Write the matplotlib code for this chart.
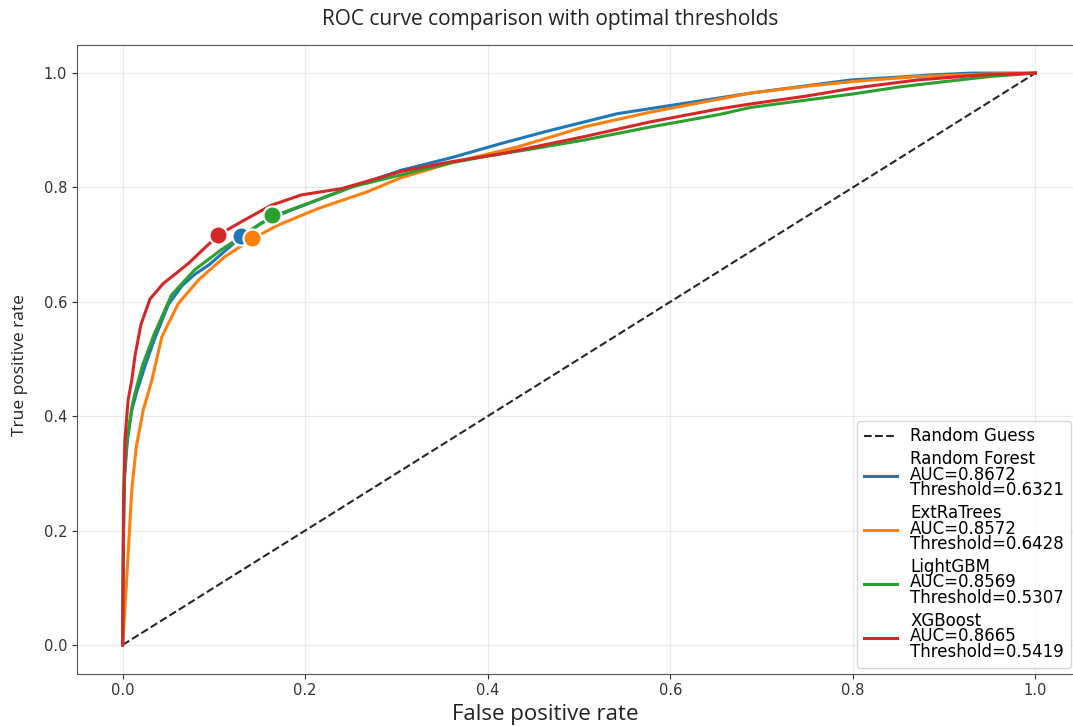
import matplotlib
matplotlib.use("Agg")
import matplotlib.pyplot as plt

plt.rcParams["font.family"] = ["DejaVu Sans"]

# ROC curves (false positive rate, true positive rate)
rf_fpr = [0, 0.001, 0.002, 0.005, 0.01, 0.015, 0.025, 0.035, 0.05, 0.065, 0.079, 0.095,
          0.105, 0.118, 0.130, 0.152, 0.181, 0.21, 0.25, 0.305, 0.36, 0.415, 0.469,
          0.542, 0.615, 0.688, 0.75, 0.798, 0.85, 0.888, 0.93, 1.0]
rf_tpr = [0, 0.2, 0.29, 0.355, 0.41, 0.44, 0.49, 0.535, 0.595, 0.628, 0.648, 0.665,
          0.679, 0.697, 0.714, 0.738, 0.758, 0.776, 0.80, 0.830, 0.852, 0.877, 0.900,
          0.929, 0.947, 0.965, 0.978, 0.988, 0.993, 0.997, 1.0, 1.0]

et_fpr = [0, 0.002, 0.0044, 0.01, 0.015, 0.0226, 0.032, 0.043, 0.061, 0.083, 0.112,
          0.143, 0.170, 0.214, 0.269, 0.305, 0.36, 0.433, 0.506, 0.579, 0.688, 0.75,
          0.798, 0.871, 0.94, 1.0]
et_tpr = [0, 0.05, 0.114, 0.271, 0.347, 0.411, 0.463, 0.539, 0.597, 0.638, 0.679,
          0.711, 0.734, 0.763, 0.793, 0.817, 0.843, 0.871, 0.906, 0.932, 0.965, 0.977,
          0.985, 0.994, 0.998, 1.0]

lgb_fpr = [0, 0.001, 0.002, 0.005, 0.01, 0.0135, 0.022, 0.035, 0.0536, 0.079, 0.108,
           0.141, 0.165, 0.203, 0.251, 0.305, 0.36, 0.40, 0.451, 0.506, 0.579, 0.652,
           0.688, 0.75, 0.798, 0.852, 0.9, 0.95, 1.0]
lgb_tpr = [0, 0.2, 0.30, 0.36, 0.415, 0.44, 0.49, 0.545, 0.612, 0.656, 0.691,
           0.726, 0.750, 0.772, 0.801, 0.822, 0.843, 0.855, 0.868, 0.883, 0.906, 0.927,
           0.940, 0.953, 0.963, 0.976, 0.985, 0.994, 1.0]

xgb_fpr = [0, 0.001, 0.0025, 0.006, 0.01, 0.0135, 0.02, 0.03, 0.0445, 0.072, 0.105,
           0.130, 0.163, 0.196, 0.240, 0.305, 0.36, 0.415, 0.506, 0.579, 0.652, 0.688,
           0.75, 0.798, 0.871, 0.943, 1.0]
xgb_tpr = [0, 0.25, 0.358, 0.428, 0.463, 0.505, 0.56, 0.605, 0.632, 0.667, 0.717,
           0.740, 0.769, 0.787, 0.798, 0.828, 0.845, 0.859, 0.889, 0.915, 0.937, 0.946,
           0.960, 0.973, 0.988, 0.997, 1.0]

# optimal threshold points
opt_fpr = [0.130, 0.142, 0.164, 0.104]
opt_tpr = [0.715, 0.711, 0.751, 0.717]

model_names = ["Random Forest", "ExtRaTrees", "LightGBM", "XGBoost"]
auc_values = [0.8672, 0.8572, 0.8569, 0.8665]
thresholds = [0.6321, 0.6428, 0.5307, 0.5419]
colors = ["#1f77b4", "#ff7f0e", "#2ca02c", "#d62728"]

curves = [(rf_fpr, rf_tpr), (et_fpr, et_tpr), (lgb_fpr, lgb_tpr), (xgb_fpr, xgb_tpr)]

fig = plt.figure(figsize=(10.73, 7.26), dpi=100)
ax = fig.add_axes([77 / 1073, 1 - 673.5 / 726, 1004 / 1073, 629 / 726])

ax.plot([0, 1], [0, 1], "k--", lw=1.5, alpha=0.85, label="Random Guess")

for (fpr, tpr), name, auc, thr, c in zip(curves, model_names, auc_values, thresholds, colors):
    ax.plot(fpr, tpr, color=c, lw=2.2,
            label=f"{name}\nAUC={auc:.4f}\nThreshold={thr:.4f}")

for x, y, c in zip(opt_fpr, opt_tpr, colors):
    ax.plot(x, y, "o", color=c, markersize=13, markeredgecolor="white",
            markeredgewidth=1.5, zorder=5)

ax.set_xlim(-0.05, 1.05)
ax.set_ylim(-0.05, 1.05)
ax.set_xticks([0, 0.2, 0.4, 0.6, 0.8, 1.0])
ax.set_yticks([0, 0.2, 0.4, 0.6, 0.8, 1.0])
ax.tick_params(labelsize=10.5, colors="#333333")
ax.grid(True, alpha=0.25)
for s in ax.spines.values():
    s.set_color("#555555")

ax.set_xlabel("False positive rate", fontfamily="Open Sans", fontsize=16, color="#222222")
ax.xaxis.set_label_coords((545 - 77) / 1004, (673.5 - 704) / 629)
ax.set_ylabel("True positive rate", fontfamily="Open Sans", fontsize=12.5, color="#222222")
ax.yaxis.set_label_coords((28 - 77) / 1004, (673.5 - 365) / 629)

fig.text(550 / 1073, 1 - 19 / 726, "ROC curve comparison with optimal thresholds",
         fontfamily="Open Sans", fontsize=15, ha="center", va="center", color="#222222")

leg = ax.legend(loc="lower right", bbox_to_anchor=(1071 / 1073, 1 - 668 / 726),
                bbox_transform=fig.transFigure, fontsize=12, labelspacing=0.25,
                handlelength=2.0, borderpad=0.4, borderaxespad=0)
for t in leg.get_texts():
    t.set_linespacing(0.85)

fig.savefig("out.png", dpi=100)
